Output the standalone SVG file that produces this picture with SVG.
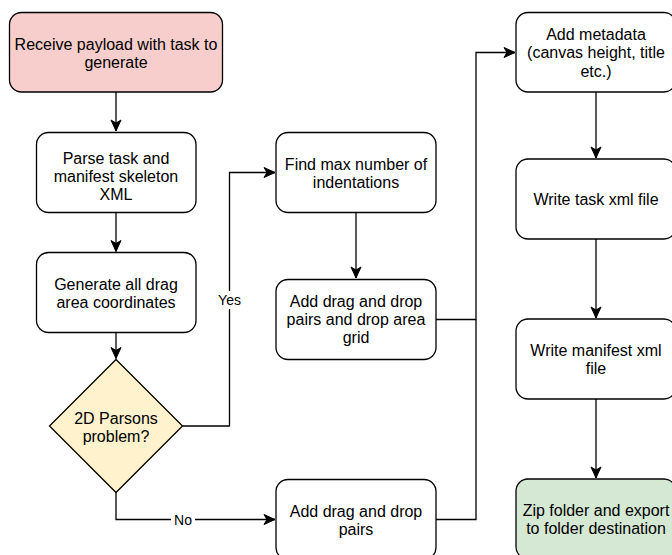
<svg xmlns="http://www.w3.org/2000/svg" width="672" height="555" viewBox="0 0 672 555">
<defs>
<style>
.box{fill:#ffffff;stroke:#000000;stroke-width:1.3}
.start{fill:#f8cecc}
.dec{fill:#fff2cc}
.end{fill:#d5e8d4}
.t{font-family:"Liberation Sans",Arial,sans-serif;font-size:16px;fill:#000000;text-anchor:middle}
.lbl{font-family:"Liberation Sans",Arial,sans-serif;font-size:14px;fill:#000000;text-anchor:middle}
.c{fill:none;stroke:#000000;stroke-width:1.3}
</style>
<marker id="arr" markerUnits="userSpaceOnUse" markerWidth="14" markerHeight="12" refX="12" refY="6" orient="auto" viewBox="0 0 14 12">
<path d="M12,6 L1,1 L4,6 L1,11 Z" fill="#000000" stroke="#000000" stroke-width="1"/>
</marker>
</defs>
<rect width="672" height="555" fill="#ffffff"/>
<g id="connectors">
<path class="c" d="M116,92 V131" marker-end="url(#arr)"/>
<path class="c" d="M116,212.5 V251.5" marker-end="url(#arr)"/>
<path class="c" d="M116,332.5 V358.5" marker-end="url(#arr)"/>
<path class="c" d="M182.5,426 H229.5 V172.5 H275" marker-end="url(#arr)"/>
<path class="c" d="M116,492.5 V519.5 H275" marker-end="url(#arr)"/>
<path class="c" d="M356,212.5 V278" marker-end="url(#arr)"/>
<path class="c" d="M436,319.5 H476 V52.5 H515" marker-end="url(#arr)"/>
<path class="c" d="M436,519.5 H476 V319.5"/>
<path class="c" d="M596,92 V158" marker-end="url(#arr)"/>
<path class="c" d="M596,239 V318" marker-end="url(#arr)"/>
<path class="c" d="M596,399 V478" marker-end="url(#arr)"/>
<rect x="215" y="291" width="29" height="18" fill="#ffffff"/>
<text class="lbl" x="229.5" y="305">Yes</text>
<rect x="171" y="511" width="24" height="17" fill="#ffffff"/>
<text class="lbl" x="183" y="524.5">No</text>
</g>
<g id="receive">
<rect class="box start" x="9.5" y="12.5" width="213" height="79.5" rx="12"/>
<text class="t" x="116" y="49.5">Receive payload with task to</text>
<text class="t" x="116" y="67.5">generate</text>
</g>
<g id="parse">
<rect class="box" x="36.5" y="132.5" width="159.5" height="80" rx="12"/>
<text class="t" x="116" y="163.5">Parse task and</text>
<text class="t" x="116" y="181.5">manifest skeleton</text>
<text class="t" x="116" y="199.5">XML</text>
</g>
<g id="generate">
<rect class="box" x="36.5" y="252.5" width="159.5" height="80" rx="12"/>
<text class="t" x="116" y="290">Generate all drag</text>
<text class="t" x="116" y="308">area coordinates</text>
</g>
<g id="decision">
<polygon class="box dec" points="116,359.5 182.5,426 116,492.5 49.5,426"/>
<text class="t" x="116" y="423.5">2D Parsons</text>
<text class="t" x="116" y="441.5">problem?</text>
</g>
<g id="findmax">
<rect class="box" x="276" y="132.5" width="160" height="80" rx="12"/>
<text class="t" x="356" y="169.5">Find max number of</text>
<text class="t" x="356" y="187.5">indentations</text>
</g>
<g id="addgrid">
<rect class="box" x="276" y="279.5" width="160" height="80" rx="12"/>
<text class="t" x="356" y="306.5">Add drag and drop</text>
<text class="t" x="356" y="324.5">pairs and drop area</text>
<text class="t" x="356" y="342.5">grid</text>
</g>
<g id="addpairs">
<rect class="box" x="276" y="479.5" width="160" height="80" rx="12"/>
<text class="t" x="356" y="516.5">Add drag and drop</text>
<text class="t" x="356" y="534.5">pairs</text>
</g>
<g id="metadata">
<rect class="box" x="516" y="12.5" width="160" height="79.5" rx="12"/>
<text class="t" x="596" y="39.5">Add metadata</text>
<text class="t" x="596" y="58">(canvas height, title</text>
<text class="t" x="596" y="76.5">etc.)</text>
</g>
<g id="writetask">
<rect class="box" x="516" y="159" width="160" height="80" rx="12"/>
<text class="t" x="596" y="204.5">Write task xml file</text>
</g>
<g id="writemanifest">
<rect class="box" x="516" y="319" width="160" height="80" rx="12"/>
<text class="t" x="596" y="356">Write manifest xml</text>
<text class="t" x="596" y="374">file</text>
</g>
<g id="zip">
<rect class="box end" x="516" y="479" width="160" height="80" rx="12"/>
<text class="t" x="596" y="516">Zip folder and export</text>
<text class="t" x="596" y="534">to folder destination</text>
</g>
</svg>
